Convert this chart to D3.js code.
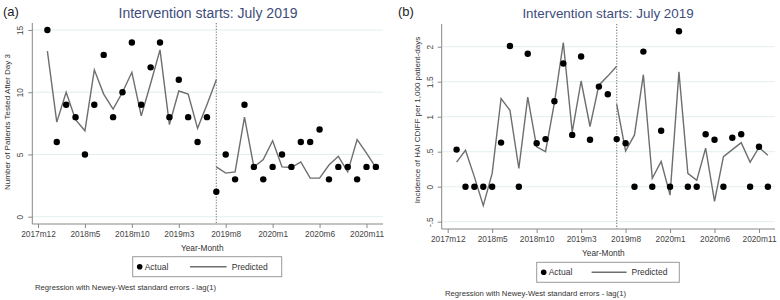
<!DOCTYPE html>
<html>
<head>
<meta charset="utf-8">
<script src="https://cdn.jsdelivr.net/npm/d3@7"></script>
<style>
  body { margin: 0; background: #fff; }
  svg { font-family: "Liberation Sans", Arial, sans-serif; }
</style>
</head>
<body>
<svg id="chart" width="780" height="300"></svg>
<script>
// months counted from 2017m12 = 0
var tickMonths = [0, 5, 10, 15, 20, 25, 30, 35];
var tickLabels = ["2017m12", "2018m5", "2018m10", "2019m3", "2019m8", "2020m1", "2020m6", "2020m11"];
var months = d3.range(1, 37);          // 2018m1 .. 2020m12
var preMonths = d3.range(1, 20);       // 2018m1 .. 2019m7
var postMonths = d3.range(19, 37);     // 2019m7 .. 2020m12
var interventionMonth = 19;

// panel (a): patients tested after day 3
var actualA = [15, 6, 9, 8, 5, 9, 13, 8, 10, 14, 9, 12, 14, 8, 11, 8, 6, 8, 2, 5, 3, 9, 4, 3, 4, 5, 4, 6, 6, 7, 3, 4, 4, 3, 4, 4];
var predPreA = [13.3, 7.6, 10.0, 7.8, 6.9, 11.8, 9.85, 8.65, 10.0, 11.6, 8.1, 10.7, 13.4, 7.4, 10.1, 9.85, 7.1, 9.0, 11.0];
var predPostA = [4.0, 3.5, 3.6, 8.0, 4.0, 4.6, 6.1, 4.0, 3.95, 4.4, 3.1, 3.1, 4.15, 4.85, 3.6, 6.2, 5.1, 3.95];
var yTicksA = [0, 5, 10, 15];
var yLabelsA = ["0", "5", "10", "15"];

// panel (b): HAI CDIFF incidence
var actualB = [0.53, 0, 0, 0, 0, 0.63, 2.01, 0, 1.9, 0.62, 0.68, 1.22, 1.76, 0.74, 1.86, 0.67, 1.43, 1.32, 0.68, 0.62, 0, 1.93, 0, 0.8, 0, 2.22, 0, 0, 0.75, 0.67, 0, 0.70, 0.75, 0, 0.57, 0];
var predPreB = [0.35, 0.52, 0.14, -0.27, 0.19, 1.26, 1.09, 0.26, 1.28, 0.57, 0.5, 1.2, 2.06, 0.78, 1.51, 0.86, 1.45, 1.58, 1.72];
var predPostB = [1.18, 0.51, 0.74, 1.6, 0.12, 0.36, -0.12, 1.64, 0.19, 0.09, 0.55, -0.21, 0.43, 0.53, 0.63, 0.35, 0.56, 0.45];
var yTicksB = [-0.5, 0, 0.5, 1, 1.5, 2];
var yLabelsB = ["-.5", "0", ".5", "1", "1.5", "2"];

var svg = d3.select("#chart");

function panel(o) {
  var g = svg.append("g");
  var x = d3.scaleLinear().domain([0, 35]).range(o.xr);
  var y = d3.scaleLinear().domain(o.yd).range(o.yr);

  // grid
  g.selectAll(".grid").data(o.yTicks).enter().append("line")
    .attr("x1", o.axisX).attr("x2", o.gridEnd)
    .attr("y1", function(d){ return y(d); }).attr("y2", function(d){ return y(d); })
    .attr("stroke", "#e3eef0").attr("stroke-width", 1);

  // y axis
  var ya = g.append("g").attr("transform", "translate(" + o.axisX + ",0)")
    .call(d3.axisLeft(y).tickValues(o.yTicks).tickSize(4).tickPadding(3)
      .tickFormat(function(d, i){ return o.yLabels[i]; }));
  ya.select(".domain").attr("d", "M0," + o.top + "V" + o.axisY).attr("stroke", "#888");
  ya.selectAll(".tick line").attr("stroke", "#888");
  ya.selectAll(".tick text").attr("transform", "rotate(-90)")
    .attr("x", 0).attr("y", -9).attr("dy", 0).attr("text-anchor", "middle")
    .attr("fill", "#444").style("font-size", "8.3px").style("font-family", "inherit");

  // x axis
  var xa = g.append("g").attr("transform", "translate(0," + o.axisY + ")")
    .call(d3.axisBottom(x).tickValues(tickMonths).tickSize(4).tickPadding(3)
      .tickFormat(function(d, i){ return tickLabels[i]; }));
  xa.select(".domain").attr("d", "M" + o.axisX + ",0H" + o.gridEnd).attr("stroke", "#888");
  xa.selectAll(".tick line").attr("stroke", "#888");
  xa.selectAll(".tick text").attr("fill", "#444").style("font-size", "8.3px").style("font-family", "inherit");

  // intervention line
  g.append("line")
    .attr("x1", x(interventionMonth)).attr("x2", x(interventionMonth))
    .attr("y1", o.top).attr("y2", o.axisY)
    .attr("stroke", "#888").attr("stroke-width", 1.2).attr("stroke-dasharray", "1.3,1.5");

  // predicted
  var line = d3.line().x(function(d){ return x(d[0]); }).y(function(d){ return y(d[1]); });
  [[preMonths, o.pre], [postMonths, o.post]].forEach(function(s) {
    g.append("path").datum(d3.zip(s[0], s[1]))
      .attr("d", line).attr("fill", "none")
      .attr("stroke", "#6e6e6e").attr("stroke-width", 1.4);
  });

  // actual
  g.selectAll(".dot").data(d3.zip(months, o.actual)).enter().append("circle")
    .attr("cx", function(d){ return x(d[0]); }).attr("cy", function(d){ return y(d[1]); })
    .attr("r", 3.2).attr("fill", "#000");

  // titles
  g.append("text").attr("x", o.tagX).attr("y", 16).text(o.tag)
    .style("font-size", "13px").attr("fill", "#222");
  g.append("text").attr("x", o.titleX).attr("y", 18).attr("text-anchor", "middle")
    .text("Intervention starts: July 2019")
    .style("font-size", o.titleSize + "px").attr("fill", "#3e4c7c");
  g.append("text").attr("transform", "translate(" + o.yTitleX + "," + o.yTitleY + ") rotate(-90)")
    .attr("text-anchor", "middle").text(o.yTitle)
    .style("font-size", "8px").attr("fill", "#333");
  g.append("text").attr("x", (o.xr[0] + o.xr[1]) / 2).attr("y", o.axisY + 27)
    .attr("text-anchor", "middle").text("Year-Month")
    .style("font-size", "8.3px").attr("fill", "#333");

  // legend
  var lg = g.append("g").attr("transform", "translate(" + o.legX + "," + o.legY + ")");
  lg.append("rect").attr("x", 0).attr("y", 0).attr("width", o.legW).attr("height", 20)
    .attr("fill", "#fff").attr("stroke", "#999").attr("stroke-width", 1);
  lg.append("circle").attr("cx", 7).attr("cy", 10).attr("r", 2.8).attr("fill", "#000");
  lg.append("text").attr("x", 12).attr("y", 13).text("Actual")
    .style("font-size", "8.5px").attr("fill", "#333");
  lg.append("line").attr("x1", o.legW * 0.385).attr("x2", o.legW * 0.63)
    .attr("y1", 10).attr("y2", 10).attr("stroke", "#6e6e6e").attr("stroke-width", 1.4);
  lg.append("text").attr("x", o.legW * 0.665).attr("y", 13).text("Predicted")
    .style("font-size", "8.5px").attr("fill", "#333");

  g.append("text").attr("x", o.noteX).attr("y", o.noteY)
    .text("Regression with Newey-West standard errors - lag(1)")
    .style("font-size", "7.7px").attr("fill", "#333");
}

panel({
  tag: "(a)", tagX: 3, titleX: 208, titleSize: 14,
  xr: [38, 366.5], yd: [0, 15], yr: [216.7, 30],
  yTicks: yTicksA, yLabels: yLabelsA,
  axisX: 32.3, axisY: 224, top: 23, gridEnd: 383,
  actual: actualA, pre: predPreA, post: predPostA,
  yTitle: "Number of Patients Tested After Day 3", yTitleX: 10, yTitleY: 122,
  legX: 132.7, legY: 256.7, legW: 149,
  noteX: 35, noteY: 289.5
});

panel({
  tag: "(b)", tagX: 398, titleX: 608, titleSize: 13.4,
  xr: [447.7, 759], yd: [-0.5, 2], yr: [221.7, 46.7],
  yTicks: yTicksB, yLabels: yLabelsB,
  axisX: 441.7, axisY: 229, top: 24, gridEnd: 775,
  actual: actualB, pre: predPreB, post: predPostB,
  yTitle: "Incidence of HAI CDIFF per 1,000 patient-days", yTitleX: 420, yTitleY: 120,
  legX: 536.7, legY: 262.3, legW: 142.6,
  noteX: 445, noteY: 295.5
});
</script>
</body>
</html>
